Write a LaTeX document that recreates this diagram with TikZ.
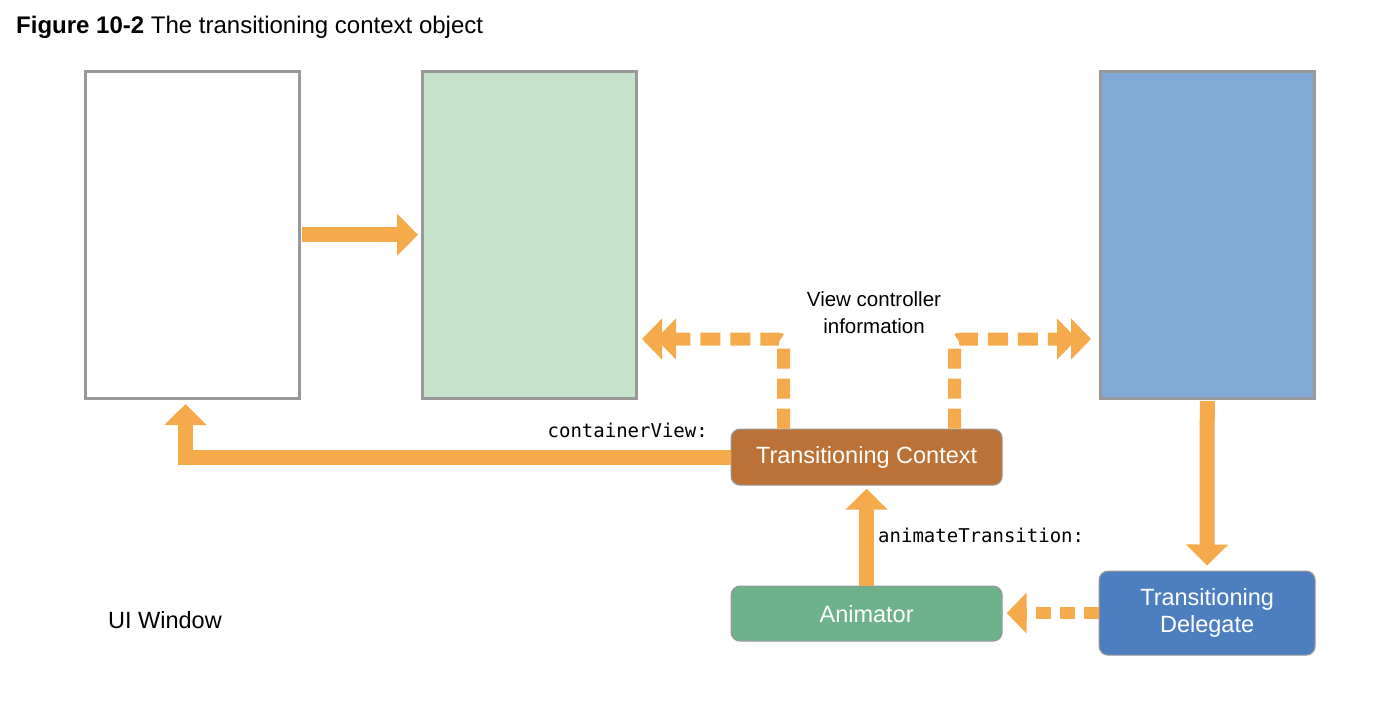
\documentclass[tikz,border=0pt]{standalone}
\usepackage{fontspec}
\setmainfont{Liberation Sans}
\setmonofont{DejaVu Sans Mono}
\usetikzlibrary{arrows.meta,calc}
\definecolor{org}{RGB}{245,170,76}
\definecolor{bord}{RGB}{153,153,153}
\definecolor{greenbox}{RGB}{197,226,203}
\definecolor{bluebox}{RGB}{130,170,214}
\definecolor{tcfill}{RGB}{188,113,54}
\definecolor{anfill}{RGB}{109,178,138}
\definecolor{tdfill}{RGB}{77,127,192}
\begin{document}
\begin{tikzpicture}[x=1pt,y=-1pt,
 panel/.style={draw=bord,line width=2.5pt,minimum width=214pt,minimum height=327pt,inner sep=0pt,anchor=north west},
 pill/.style={draw=bord,line width=1.2pt,rounded corners=9pt,text=white,font=\fontsize{23.5}{27}\selectfont,align=center,inner sep=0pt,anchor=north west},
 solidarrow/.style={draw=org,line width=15pt,-{Triangle[length=21pt,width=41pt]}},
 dasharrow/.style={draw=org,line width=12pt,dash pattern=on 15pt off 9pt,-{Triangle[length=20pt,width=40pt]}},
 dbl/.style={draw=org,line width=13pt,dash pattern=on 20pt off 10pt,rounded corners=6pt,-{Triangle[length=20pt,width=40pt,sep=-6pt]Triangle[length=20pt,width=40pt]}},
 lbl/.style={inner sep=0pt},
 code/.style={font=\ttfamily\fontsize{19}{22}\selectfont,inner sep=0pt}
]
\useasboundingbox[fill=white] (0,0) rectangle (1378,712);

\node[panel,fill=white] (win) at (84,70) {};
\node[panel,fill=greenbox] (from) at (421,70) {};
\node[panel,fill=bluebox] (to) at (1099,70) {};

\node[pill,fill=tcfill,minimum width=271pt,minimum height=56pt] (tc) at (730.5,428.5) {Transitioning Context};
\node[pill,fill=anfill,minimum width=271pt,minimum height=55pt] (anim) at (730.5,585.5) {Animator};
\node[pill,fill=tdfill,minimum width=216pt,minimum height=84pt] (td) at (1098.5,570.5) {Transitioning\\Delegate};

\coordinate (cvtip) at (185.5,404);
\coordinate (vcl) at (642,339);
\coordinate (vcr) at (1091,339);

\draw[solidarrow,shorten <=1.5pt,shorten >=3pt] (win.east) -- (from.west);
\draw[solidarrow,line join=miter] (tc.west) -| (cvtip);
\draw[dbl] ([xshift=53pt]tc.north west) |- (vcl);
\draw[dbl] ([xshift=-48pt]tc.north east) |- (vcr);
\draw[solidarrow,shorten <=1.5pt,shorten >=5pt] (to.south) -- (td.north);
\draw[solidarrow,shorten >=3pt] (anim.north) -- (tc.south);
\draw[dasharrow,shorten >=4pt] (td.west) -- (anim.east |- td.west);

\node[lbl,anchor=base west,font=\fontsize{24}{28}\selectfont] (title) at (16,33) {\textbf{Figure 10-2} The transitioning context object};
\node[lbl,align=center,font=\fontsize{20.5}{27}\selectfont] (vci) at (874,313) {View controller\\information};
\node[lbl,anchor=base west,font=\fontsize{23.5}{27}\selectfont] (uiw) at (108,628) {UI Window};
\node[code,anchor=base east] (cvl) at (708,437) {containerView:};
\node[code,anchor=base west] (atl) at (878,542) {animateTransition:};
\end{tikzpicture}
\end{document}
